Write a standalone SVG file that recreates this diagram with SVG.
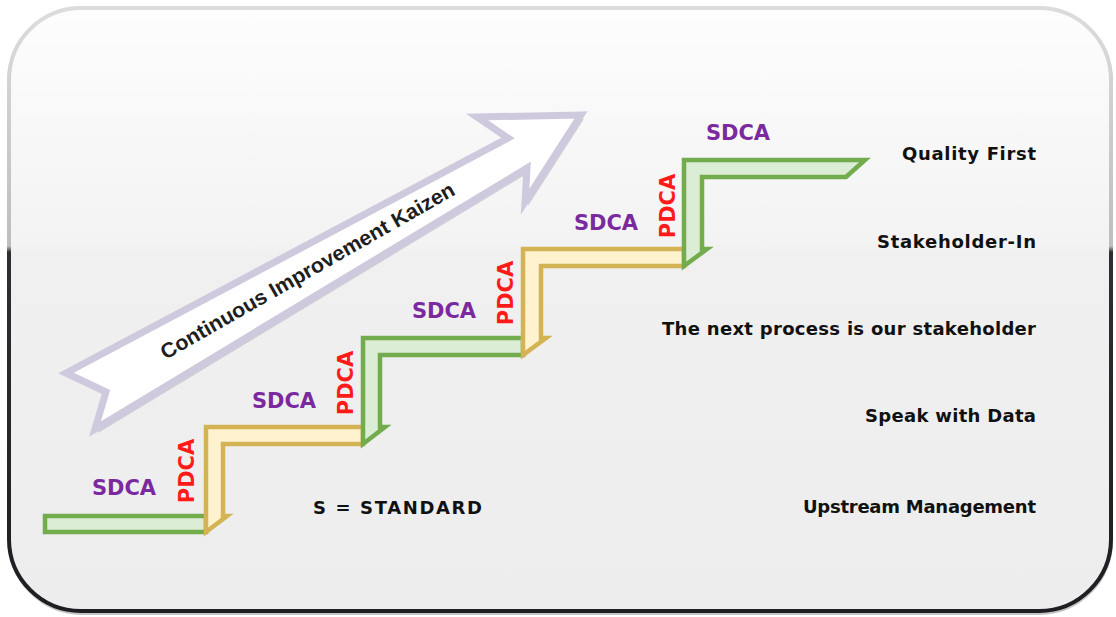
<svg xmlns="http://www.w3.org/2000/svg" width="1116" height="617" viewBox="0 0 1116 617">
  <defs>
    <linearGradient id="bgFill" gradientUnits="userSpaceOnUse" x1="0" y1="8" x2="0" y2="611">
      <stop offset="0" stop-color="#fdfdfd"/>
      <stop offset="0.39" stop-color="#f3f3f3"/>
      <stop offset="0.41" stop-color="#f0f0f0"/>
      <stop offset="1" stop-color="#ededed"/>
    </linearGradient>
    <linearGradient id="bgStroke" gradientUnits="userSpaceOnUse" x1="0" y1="8" x2="0" y2="611">
      <stop offset="0" stop-color="#dcdcdc"/>
      <stop offset="0.395" stop-color="#bdbdbd"/>
      <stop offset="0.405" stop-color="#2e2e34"/>
      <stop offset="1" stop-color="#1e1e22"/>
    </linearGradient>
    <style>
      .green { fill: #dcedd6; stroke: #72ac4d; stroke-width: 4.5; stroke-linejoin: miter; }
      .yellow { fill: #fff3cf; stroke: #d4b355; stroke-width: 4.5; stroke-linejoin: miter; }
      .sdca { font-family: "DejaVu Sans", Verdana, sans-serif; font-weight: bold; font-size: 21px; fill: #7a2a9e; text-anchor: middle; }
      .pdca { font-family: "DejaVu Sans", Verdana, sans-serif; font-weight: bold; font-size: 21px; fill: #ff1a1a; text-anchor: middle; }
      .note { font-family: "DejaVu Sans", "Comic Sans MS", sans-serif; font-weight: bold; font-size: 18px; fill: #111111; }
      .arrowText { font-family: "Liberation Sans", Arial, sans-serif; font-weight: bold; font-size: 21px; fill: #1e1e1e; text-anchor: middle; }
    </style>
  </defs>

  <rect x="0" y="0" width="1116" height="617" fill="#ffffff"/>

  <g id="frame">
    <rect x="10" y="11" width="1101" height="602" rx="72" ry="72" fill="none" stroke="#8a8a8a" stroke-width="4" opacity="0.5"/>
    <rect x="9" y="8" width="1102" height="603" rx="72" ry="72" fill="url(#bgFill)" stroke="url(#bgStroke)" stroke-width="4"/>
  </g>

  <g id="kaizen-arrow">
    <polygon points="581,115 477,117 508,138 66,373 106,392 95,429 527,168 525,202" fill="#b9b5c6" opacity="0.6" transform="translate(3,4)"/>
    <polygon points="581,115 477,117 508,138 66,373 106,392 95,429 527,168 525,202" fill="#ffffff" stroke="#cfc9de" stroke-width="7" stroke-linejoin="miter"/>
    <text class="arrowText" x="307" y="278" textLength="335" lengthAdjust="spacingAndGlyphs" transform="rotate(-29.7 307 270)">Continuous Improvement Kaizen</text>
  </g>

  <g id="connectors">
    <path id="step1" class="green" d="M45,516 L206,516 L206,532 L45,532 Z"/>
    <path id="step2" class="yellow" d="M206,532 L206,427 L363,427 L363,444 L223,444 L223,516 L227,516 Z"/>
    <path id="step3" class="green" d="M363,444 L363,338 L523,338 L523,355 L380,355 L380,427 L385,427 Z"/>
    <path id="step4" class="yellow" d="M523,355 L523,249 L684,249 L684,266 L541,266 L541,338 L546,338 Z"/>
    <path id="step5" class="green" d="M684,266 L684,160 L865,160 L846,177 L702,177 L702,249 L707,249 Z"/>
  </g>

  <g id="cycle-labels">
    <text class="sdca" x="124" y="495">SDCA</text>
    <text class="sdca" x="284" y="408">SDCA</text>
    <text class="sdca" x="444" y="318">SDCA</text>
    <text class="sdca" x="606" y="230">SDCA</text>
    <text class="sdca" x="738" y="140">SDCA</text>
    <text class="pdca" transform="translate(186,471) rotate(-90)" x="0" y="7.5">PDCA</text>
    <text class="pdca" transform="translate(345,383) rotate(-90)" x="0" y="7.5">PDCA</text>
    <text class="pdca" transform="translate(505,293) rotate(-90)" x="0" y="7.5">PDCA</text>
    <text class="pdca" transform="translate(667,206) rotate(-90)" x="0" y="7.5">PDCA</text>
  </g>

  <g id="principles">
    <text class="note" x="1036" y="160" text-anchor="end" textLength="134" lengthAdjust="spacing">Quality First</text>
    <text class="note" x="1036" y="248" text-anchor="end" textLength="159" lengthAdjust="spacing">Stakeholder-In</text>
    <text class="note" x="1036" y="335" text-anchor="end" textLength="374" lengthAdjust="spacing">The next process is our stakeholder</text>
    <text class="note" x="1036" y="422" text-anchor="end" textLength="171" lengthAdjust="spacing">Speak with Data</text>
    <text class="note" x="1036" y="513" text-anchor="end" textLength="233" lengthAdjust="spacing">Upstream Management</text>
    <text class="note" x="313" y="514" textLength="169" lengthAdjust="spacing">S = STANDARD</text>
  </g>
</svg>
